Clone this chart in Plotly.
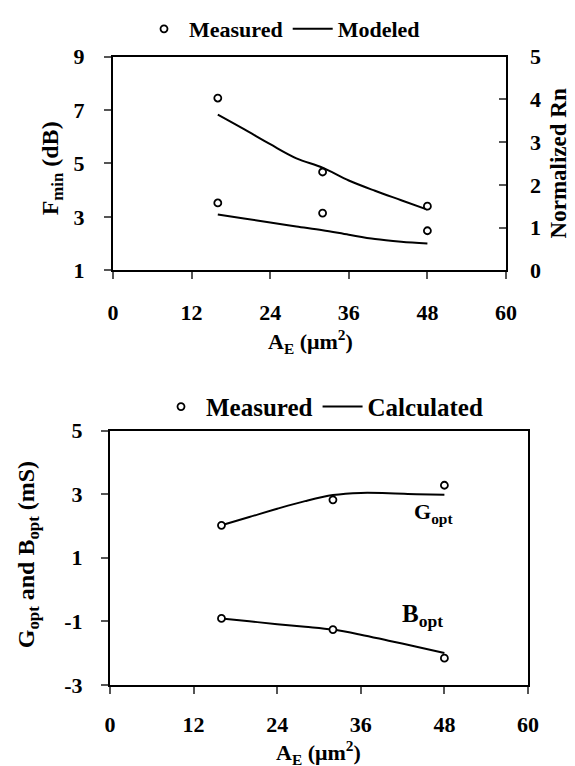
import plotly.graph_objects as go

# ---- data ----
area_meas = [16, 32, 48]
fmin_meas = [3.52, 3.14, 2.48]          # dB (left axis)
rn_meas = [4.03, 2.30, 1.50]            # normalized Rn (right axis)
area_model = [16, 20, 24, 28, 32, 36, 40, 44, 48]
fmin_model = [3.09, 2.94, 2.79, 2.64, 2.50, 2.33, 2.17, 2.07, 2.00]
rn_model = [3.64, 3.30, 2.95, 2.62, 2.40, 2.10, 1.86, 1.64, 1.42]

gopt_meas = [2.02, 2.82, 3.28]
bopt_meas = [-0.91, -1.26, -2.16]
area_calc = [16, 20, 24, 28, 32, 36, 40, 44, 48]
gopt_calc = [2.02, 2.28, 2.54, 2.78, 2.97, 3.04, 3.03, 3.00, 2.98]
bopt_calc = [-0.91, -1.00, -1.09, -1.17, -1.26, -1.42, -1.61, -1.80, -2.00]

x_ticks = [0, 12, 24, 36, 48, 60]
fmin_ticks = [1, 3, 5, 7, 9]
rn_ticks = [0, 1, 2, 3, 4, 5]
gb_ticks = [-3, -1, 1, 3, 5]
gb_tick_text = ["-3", "-1", "1", "3", "5"]

FONT = "Liberation Serif"
BLACK = "#000000"
OFF = 8                      # default page body margin
W, H = 575 - OFF, 766 - OFF


def px(x):
    return (x - OFF) / W


def py(y):
    return 1 - (y - OFF) / H


def marker():
    return dict(symbol="circle", size=7, color="white",
                line=dict(color=BLACK, width=1.8))


fig = go.Figure()

# top chart
fig.add_trace(go.Scatter(x=area_model, y=fmin_model, mode="lines",
                         line=dict(color=BLACK, width=2, shape="spline"),
                         name="Modeled", legend="legend", legendrank=2,
                         xaxis="x", yaxis="y"))
fig.add_trace(go.Scatter(x=area_model, y=rn_model, mode="lines",
                         line=dict(color=BLACK, width=2, shape="spline"),
                         showlegend=False, xaxis="x", yaxis="y3"))
fig.add_trace(go.Scatter(x=area_meas, y=fmin_meas, mode="markers", marker=marker(),
                         name="Measured", legend="legend", legendrank=1,
                         xaxis="x", yaxis="y"))
fig.add_trace(go.Scatter(x=area_meas, y=rn_meas, mode="markers", marker=marker(),
                         showlegend=False, xaxis="x", yaxis="y4"))

# bottom chart
fig.add_trace(go.Scatter(x=area_calc, y=gopt_calc, mode="lines",
                         line=dict(color=BLACK, width=2, shape="spline"),
                         name="Calculated", legend="legend2", legendrank=2,
                         xaxis="x2", yaxis="y2"))
fig.add_trace(go.Scatter(x=area_calc, y=bopt_calc, mode="lines",
                         line=dict(color=BLACK, width=2, shape="spline"),
                         showlegend=False, xaxis="x2", yaxis="y2"))
fig.add_trace(go.Scatter(x=area_meas, y=gopt_meas, mode="markers", marker=marker(),
                         name="Measured", legend="legend2", legendrank=1,
                         xaxis="x2", yaxis="y2"))
fig.add_trace(go.Scatter(x=area_meas, y=bopt_meas, mode="markers", marker=marker(),
                         showlegend=False, xaxis="x2", yaxis="y2"))

tickfont = dict(family=FONT, size=22, color=BLACK, weight="bold")

common_axis = dict(showgrid=False, zeroline=False, showline=True, linecolor=BLACK,
                   linewidth=2, ticks="outside", ticklen=7, tickwidth=1.5,
                   tickcolor="#555555", tickfont=tickfont, automargin=False)


def title_ann(text, x, y, size=22, angle=0):
    return dict(text=text, x=px(x), y=py(y), xref="paper", yref="paper",
                xanchor="center", yanchor="middle", showarrow=False, textangle=angle,
                font=dict(family=FONT, size=size, color=BLACK, weight="bold"))


fig.update_layout(
    width=W, height=H,
    margin=dict(l=0, r=0, t=0, b=0),
    paper_bgcolor="white", plot_bgcolor="white",
    font=dict(family=FONT, color=BLACK),
    xaxis=dict(common_axis, domain=[px(113), px(506)], range=[0, 60],
               tickvals=x_ticks, mirror=True, anchor="y", ticklabelstandoff=14),
    yaxis=dict(common_axis, domain=[py(265), py(49)], range=[1, 9],
               tickvals=fmin_ticks, mirror=True, anchor="x", ticklabelstandoff=15),
    # right axis: inside ticks (no labels) ...
    yaxis3=dict(common_axis, overlaying="y", side="right", anchor="x", range=[0, 5],
                tickvals=rn_ticks, ticks="inside", showline=False, showticklabels=False),
    # ... and its labels, set further out
    yaxis4=dict(common_axis, overlaying="y", side="right", anchor="x", range=[0, 5],
                tickvals=rn_ticks, ticks="", showline=False, showticklabels=True,
                ticklabelstandoff=23),
    xaxis2=dict(common_axis, domain=[px(110), px(528)], range=[0, 60],
                tickvals=x_ticks, mirror=True, anchor="y2", ticklabelstandoff=12),
    yaxis2=dict(common_axis, domain=[py(684), py(427)], range=[-3, 5],
                tickvals=gb_ticks, ticktext=gb_tick_text, mirror=True, anchor="x2",
                ticklabelstandoff=14),
    legend=dict(orientation="h", x=px(282), xanchor="center", y=py(21), yanchor="middle",
                font=dict(family=FONT, size=22, color=BLACK, weight="bold"),
                bgcolor="rgba(0,0,0,0)", itemwidth=40, tracegroupgap=0),
    legend2=dict(orientation="h", x=px(322), xanchor="center", y=py(403), yanchor="middle",
                 font=dict(family=FONT, size=25, color=BLACK, weight="bold"),
                 bgcolor="rgba(0,0,0,0)", itemwidth=40, tracegroupgap=0),
    annotations=[
        title_ann("A<sub>E</sub> (μm<sup>2</sup>)", 310, 337),
        title_ann("A<sub>E</sub> (μm<sup>2</sup>)", 318, 752),
        title_ann("F<sub>min</sub> (dB)", 52, 162, size=24, angle=-90),
        title_ann("Normalized Rn", 558, 157, size=23, angle=-90),
        title_ann("G<sub>opt</sub> and B<sub>opt</sub> (mS)", 28, 553, size=24, angle=-90),
        dict(text="G<sub>opt</sub>", x=43.3, y=2.42, xref="x2", yref="y2",
             xanchor="left", yanchor="middle", showarrow=False,
             font=dict(family=FONT, size=22, color=BLACK, weight="bold")),
        dict(text="B<sub>opt</sub>", x=41.6, y=-0.82, xref="x2", yref="y2",
             xanchor="left", yanchor="middle", showarrow=False,
             font=dict(family=FONT, size=25, color=BLACK, weight="bold")),
    ],
)

fig.write_html("out.html")
